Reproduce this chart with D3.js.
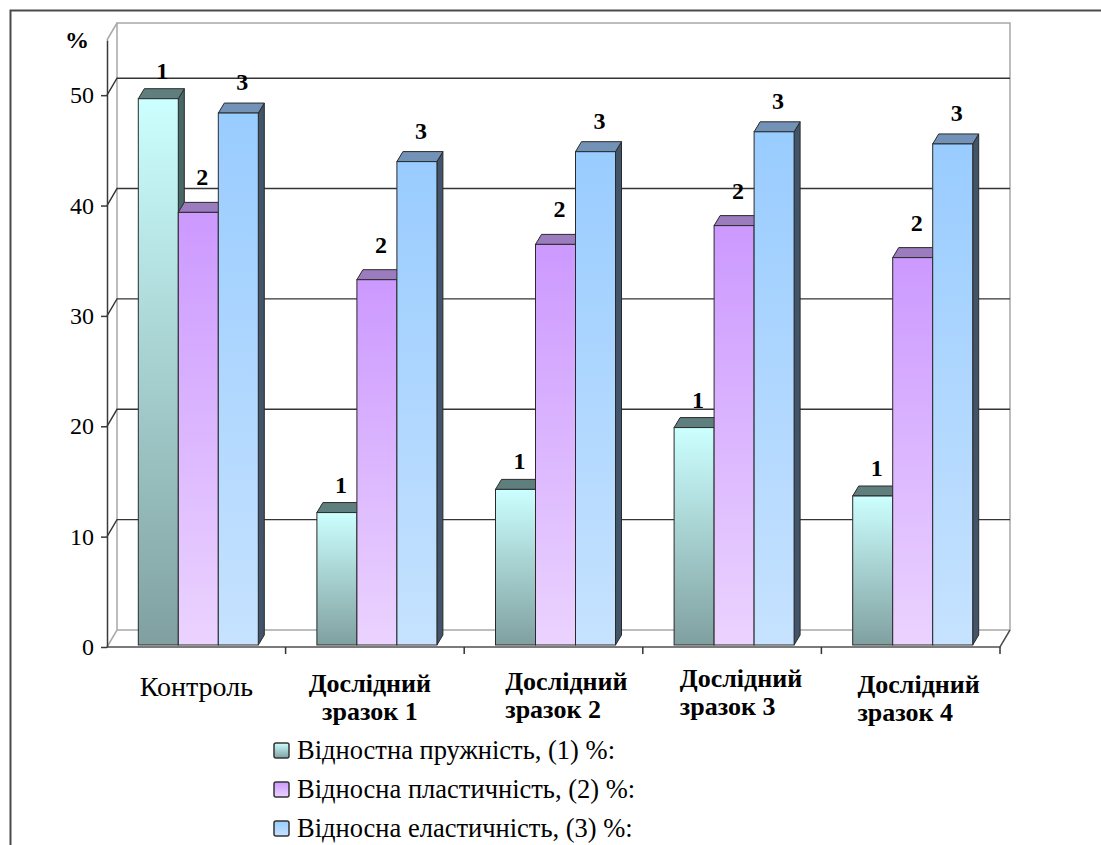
<!DOCTYPE html>
<html>
<head>
<meta charset="utf-8">
<script src="https://cdn.jsdelivr.net/npm/d3@7"></script>
<style>
  body { margin: 0; background: #fff; }
  svg text { font-family: "Liberation Serif", "DejaVu Serif", serif; fill: #000; }
</style>
</head>
<body>
<div id="chart"></div>
<script>
var categories = ["Контроль", "Дослідний зразок 1", "Дослідний зразок 2", "Дослідний зразок 3", "Дослідний зразок 4"];
var seriesNames = ["Відностна пружність, (1) %:", "Відносна пластичність, (2) %:", "Відносна еластичність, (3) %:"];
var seriesMarks = ["1", "2", "3"];
var springiness = [49.5, 12.0, 14.1, 19.7, 13.5];
var plasticity = [39.2, 33.1, 36.3, 38.0, 35.1];
var elasticity = [48.2, 43.8, 44.7, 46.5, 45.4];
var yTicks = [0, 10, 20, 30, 40, 50];

var series = [springiness, plasticity, elasticity];

// colours: gradient top / bottom, top face, side face
var gradTop = ["#ccffff", "#cc99ff", "#99ccff"];
var gradBottom = ["#80a0a0", "#ebd3ff", "#c6e2ff"];
var topFace = ["#5f7f7f", "#9b7cbf", "#7392b8"];
var sideFace = ["#486868", "#6b5290", "#42546a"];

// how far above the bar top each series number sits
var markLift = [20, 27, 23];
// category labels were placed by hand in the original: [dx from band, dy, anchor]
var catPlace = [[0, 0, "middle"], [-5, 2, "middle"], [41, 0, "start"], [37, -3, "start"], [36, 3, "start"]];

var serif = "'Liberation Serif', 'DejaVu Serif', serif";

var width = 1101, height = 845;
var left = 107, right = 1000, floorY = 647, topY = 40;
var wallDx = 10, wallDy = -17;   // depth of the back wall
var barDx = 6, barDy = -10;      // depth of each bar
var barShift = 2;                 // bars sit a little behind the front edge

var x0 = d3.scaleBand()
  .domain(categories)
  .range([left, right]);

var x1 = d3.scaleBand()
  .domain([0, 1, 2])
  .range([0, 120]);

var y = d3.scaleLinear()
  .domain([0, 55])
  .range([floorY, topY]);

var svg = d3.select("#chart").append("svg")
  .attr("width", width)
  .attr("height", height)
  .attr("font-family", serif);

var defs = svg.append("defs");
gradTop.forEach(function (c, i)
{
  var g = defs.append("linearGradient")
    .attr("id", "grad" + i)
    .attr("x1", 0).attr("y1", 0).attr("x2", 0).attr("y2", 1);
  g.append("stop").attr("offset", "0%").attr("stop-color", c);
  g.append("stop").attr("offset", "100%").attr("stop-color", gradBottom[i]);
});

// outer frame (cropped: only top and left edges visible)
svg.append("path")
  .attr("d", "M10.5," + height + "V10.5H" + width)
  .attr("fill", "none")
  .attr("stroke", "#4a4a4a")
  .attr("stroke-width", 2);

// walls and floor
var wall = svg.append("g")
  .attr("fill", "none")
  .attr("stroke", "#a8a8a8")
  .attr("stroke-width", 1.5);

wall.append("path")
  .attr("d", "M" + (left + wallDx) + "," + (y(0) + wallDy) +
    "V" + (y(55) + wallDy) + "H" + (right + wallDx) + "V" + (y(0) + wallDy) +
    "H" + (left + wallDx) + "L" + left + "," + y(0));

wall.append("path")
  .attr("d", "M" + left + "," + y(55) + "L" + (left + wallDx) + "," + (y(55) + wallDy));

// gridlines on back wall and side wall
svg.selectAll(".grid")
  .data(yTicks.filter(function (d) { return d > 0; }))
  .enter().append("path")
  .attr("class", "grid")
  .attr("fill", "none")
  .attr("stroke", "#353535")
  .attr("stroke-width", 1.4)
  .attr("d", function (d)
  {
    return "M" + left + "," + y(d) + "L" + (left + wallDx) + "," + (y(d) + wallDy) + "H" + (right + wallDx);
  });

// floor front edge and right edge
svg.append("path")
  .attr("d", "M" + left + "," + y(0) + "H" + right + "L" + (right + wallDx) + "," + (y(0) + wallDy))
  .attr("fill", "none")
  .attr("stroke", "#505050")
  .attr("stroke-width", 1.5);

// x ticks at category boundaries
svg.selectAll(".xtick")
  .data(categories)
  .enter().append("line")
  .attr("class", "xtick")
  .attr("x1", function (d) { return x0(d) + x0.bandwidth(); })
  .attr("x2", function (d) { return x0(d) + x0.bandwidth(); })
  .attr("y1", y(0))
  .attr("y2", y(0) + 7)
  .attr("stroke", "#333")
  .attr("stroke-width", 1.5);

// y axis
var yAxis = d3.axisLeft(y)
  .tickValues(yTicks)
  .tickSize(6)
  .tickSizeOuter(0)
  .tickPadding(7);

var yg = svg.append("g")
  .attr("transform", "translate(" + left + ",0)")
  .call(yAxis)
  .attr("font-family", serif)
  .attr("font-size", 24);
yg.select(".domain").attr("stroke", "#3a3a3a").attr("stroke-width", 1.5);
yg.selectAll(".tick line").attr("stroke", "#3a3a3a").attr("stroke-width", 1.5);
yg.selectAll(".tick text").attr("fill", "#000");

svg.append("text")
  .attr("x", 77)
  .attr("y", 48)
  .attr("text-anchor", "middle")
  .attr("font-size", 24)
  .attr("font-weight", "bold")
  .text("%");

// 3D bars
function barX(ci, si)
{
  return x0(categories[ci]) + (x0.bandwidth() - x1.range()[1]) / 2 + barShift + x1(si);
}

var bars = [];
categories.forEach(function (c, ci)
{
  series.forEach(function (s, si)
  {
    bars.push({ ci: ci, si: si, value: s[ci] });
  });
});

var bw = x1.bandwidth();
var barG = svg.selectAll(".bar")
  .data(bars)
  .enter().append("g")
  .attr("class", "bar");

barG.append("path")
  .attr("fill", function (d) { return sideFace[d.si]; })
  .attr("stroke", "#2a2a2a")
  .attr("stroke-width", 1)
  .attr("d", function (d)
  {
    var x = barX(d.ci, d.si) + bw, t = y(d.value) - barShift, b = y(0) - barShift;
    return "M" + x + "," + t + "l" + barDx + "," + barDy + "V" + (b + barDy) + "L" + x + "," + b + "Z";
  });

barG.append("path")
  .attr("fill", function (d) { return topFace[d.si]; })
  .attr("stroke", "#2a2a2a")
  .attr("stroke-width", 1)
  .attr("d", function (d)
  {
    var x = barX(d.ci, d.si), t = y(d.value) - barShift;
    return "M" + x + "," + t + "h" + bw + "l" + barDx + "," + barDy + "h" + (-bw) + "Z";
  });

barG.append("rect")
  .attr("x", function (d) { return barX(d.ci, d.si); })
  .attr("y", function (d) { return y(d.value) - barShift; })
  .attr("width", bw)
  .attr("height", function (d) { return y(0) - y(d.value); })
  .attr("fill", function (d) { return "url(#grad" + d.si + ")"; })
  .attr("stroke", "#2a2a2a")
  .attr("stroke-width", 1);

// series number over each bar
svg.selectAll(".vlabel")
  .data(bars)
  .enter().append("text")
  .attr("class", "vlabel")
  .attr("x", function (d) { return barX(d.ci, d.si) + bw / 2 + barDx / 2 + 1; })
  .attr("y", function (d) { return y(d.value) - barShift - markLift[d.si]; })
  .attr("text-anchor", "middle")
  .attr("font-size", 24)
  .attr("font-weight", "bold")
  .text(function (d) { return seriesMarks[d.si]; });

// category labels
var catG = svg.selectAll(".cat")
  .data(categories)
  .enter().append("text")
  .attr("class", "cat")
  .attr("text-anchor", function (d, i) { return catPlace[i][2]; })
  .attr("font-size", function (d) { return d.indexOf(" ") < 0 ? 28 : 26; })
  .attr("font-weight", function (d) { return d.indexOf(" ") < 0 ? "normal" : "bold"; })
  .attr("transform", function (d, i)
  {
    var p = catPlace[i];
    var base = p[2] == "start" ? x0(d) : x0(d) + x0.bandwidth() / 2;
    return "translate(" + (base + p[0]) + "," + p[1] + ")";
  });

catG.each(function (d)
{
  var i = d.indexOf(" ");
  var lines = i < 0 ? [d] : [d.slice(0, i), d.slice(i + 1)];
  var t = d3.select(this);
  lines.forEach(function (l, li)
  {
    t.append("tspan")
      .attr("x", 0)
      .attr("y", (lines.length == 1 ? 696 : 690) + li * 28)
      .text(l);
  });
});

// legend
var legend = svg.selectAll(".legend")
  .data(seriesNames)
  .enter().append("g")
  .attr("class", "legend")
  .attr("transform", function (d, i) { return "translate(274," + (759 + i * 39) + ")"; });

legend.append("rect")
  .attr("x", 0)
  .attr("y", -16)
  .attr("width", 15)
  .attr("height", 15)
  .attr("rx", 2)
  .attr("fill", function (d, i) { return "url(#grad" + i + ")"; })
  .attr("stroke", "#333")
  .attr("stroke-width", 1.5);

legend.append("text")
  .attr("x", 23)
  .attr("y", 0)
  .attr("font-size", 26.5)
  .text(function (d) { return d; });
</script>
</body>
</html>
